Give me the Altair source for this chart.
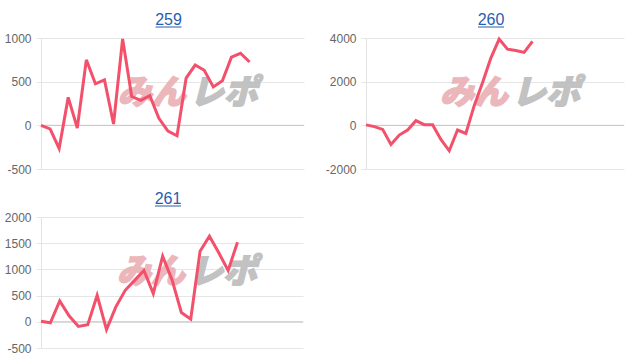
import altair as alt
import pandas as pd

# ---- data ----
titles = ["259", "260", "261"]
vals_259 = [0, -40, -265, 320, -30, 750, 475, 520, 15, 990, 330, 285, 340, 80,
            -65, -120, 540, 690, 630, 440, 510, 780, 825, 725]
vals_260 = [20, -60, -185, -875, -445, -215, 215, 30, 30, -645, -1165, -215,
            -370, 900, 1950, 3080, 3950, 3490, 3430, 3340, 3850]
vals_261 = [10, -19, 399, 114, -89, -57, 506, -150, 285, 601, 791, 981, 538,
            1253, 804, 177, 51, 1348, 1633, 1316, 981, 1519]
slots = [30, 32, 29]          # number of x positions on each panel
y_domains = [[-500, 1000], [-2000, 4000], [-500, 2000]]
y_ticks = [[-500, 0, 500, 1000], [-2000, 0, 2000, 4000],
           [-500, 0, 500, 1000, 1500, 2000]]
watermark = ["みん", "レポ"]

LINE = "#f2506b"
FONT = "Liberation Sans"


def panel(title, vals, n, dom, ticks, w, h):
    df = pd.DataFrame({"day": list(range(1, len(vals) + 1)), "v": vals})
    x = alt.X("day:Q", scale=alt.Scale(domain=[1, n], nice=False, zero=False),
              axis=None)
    yaxis = alt.Axis(values=ticks, title=None, grid=True,
                     gridColor="#e6e6e6", domainColor="#e3e3e3",
                     tickColor="#e6e6e6", tickSize=5, labelPadding=5,
                     labelColor="#666666", labelFont=FONT,
                     labelFontSize=12, labelOverlap=False,
                     labelExpr="'' + datum.value")
    yscale = alt.Scale(domain=dom, nice=False)
    y = alt.Y("v:Q", scale=yscale, axis=yaxis)
    base = alt.Chart(df)
    wm = pd.DataFrame({"t": watermark})
    cx = w * 0.55
    cy = h * 0.43
    wm1 = alt.Chart(wm.iloc[[0]]).mark_text(
        font="Noto Sans CJK JP", fontSize=34, fontWeight=900,
        fontStyle="italic", align="right", baseline="middle", color="#eab0b4",
        opacity=0.9, stroke="#eab0b4", strokeWidth=1.5
    ).encode(x=alt.value(cx), y=alt.value(cy), text="t:N")
    wm2 = alt.Chart(wm.iloc[[1]]).mark_text(
        font="Noto Sans CJK JP", fontSize=34, fontWeight=900,
        fontStyle="italic", align="left", baseline="middle", color="#bcbcbc",
        opacity=0.9, stroke="#bcbcbc", strokeWidth=1.5
    ).encode(x=alt.value(cx + 4), y=alt.value(cy), text="t:N")
    line = base.mark_line(color=LINE, strokeWidth=3, strokeJoin="miter",
                          strokeMiterLimit=4).encode(x=x, y=y)
    zero = base.transform_filter("datum.day == 1").transform_calculate(
        v="0").mark_rule(color="#c4c4c4", strokeWidth=1).encode(
        y=alt.Y("v:Q", scale=yscale, axis=yaxis))
    tdf = pd.DataFrame({"t": [title]})
    tx = w / 2 - 4
    ttext = alt.Chart(tdf).mark_text(
        font=FONT, fontSize=16, color="#2a5db0", align="center",
        baseline="alphabetic"
    ).encode(x=alt.value(tx), y=alt.value(-13), text="t:N")
    uline = alt.Chart(tdf).mark_rule(color="#2a5db0", strokeWidth=1).encode(
        x=alt.value(tx - 13), x2=alt.value(tx + 13), y=alt.value(-11))
    return alt.layer(zero, wm1, wm2, line, ttext, uline).properties(
        width=w, height=h,
        view=alt.ViewBackground(stroke="transparent", strokeWidth=0))


c259 = panel(titles[0], vals_259, slots[0], y_domains[0], y_ticks[0], 263, 131)
c260 = panel(titles[1], vals_260, slots[1], y_domains[1], y_ticks[1], 258, 131)
c261 = panel(titles[2], vals_261, slots[2], y_domains[2], y_ticks[2], 262, 131)

chart = alt.vconcat(
    alt.hconcat(c259, c260, spacing=20),
    c261,
    spacing=16,
).properties(
    padding={"left": 4, "top": 12, "right": 5, "bottom": 5}
).configure_view(stroke="transparent", strokeWidth=0).configure(
    background="white")

chart.save("out.html", embed_options={"renderer": "svg", "actions": False})
